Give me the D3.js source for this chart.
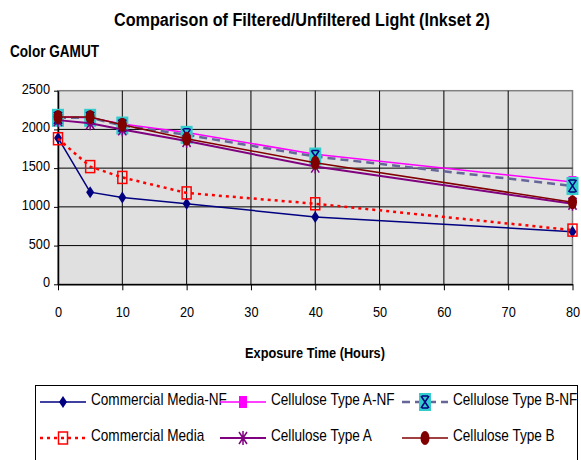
<!DOCTYPE html>
<meta charset="utf-8">
<style>
body { margin: 0; background: #fff; }
text { font-family: "Liberation Sans", Arial, sans-serif; fill: #000; }
</style>
<svg width="581" height="460"></svg>
<script src="https://cdn.jsdelivr.net/npm/d3@7"></script>
<script>

// data
var hours = [0, 5, 10, 20, 40, 80];
var commercialMediaNF = [1890, 1190, 1120, 1040, 870, 680];
var celluloseANF = [2160, 2150, 2070, 1960, 1680, 1320];
var celluloseBNF = [2150, 2150, 2050, 1930, 1650, 1270];
var commercialMedia = [1880, 1520, 1380, 1180, 1040, 700];
var celluloseA = [2120, 2080, 2000, 1850, 1520, 1040];
var celluloseB = [2160, 2160, 2060, 1880, 1570, 1060];
var xTicks = [0, 10, 20, 30, 40, 50, 60, 70, 80];
var yTicks = [0, 500, 1000, 1500, 2000, 2500];

var series = [
  {name: "Commercial Media-NF", values: commercialMediaNF, color: "#000080", width: 1.5, dash: null, marker: "diamond"},
  {name: "Cellulose Type A-NF", values: celluloseANF, color: "#ff00ff", width: 1.5, dash: null, marker: "square"},
  {name: "Cellulose Type B-NF", values: celluloseBNF, color: "#666699", width: 2.5, dash: "8,5", marker: "xbox"},
  {name: "Commercial Media", values: commercialMedia, color: "#ff0000", width: 2.5, dash: "3,4", marker: "hollow"},
  {name: "Cellulose Type A", values: celluloseA, color: "#800080", width: 2, dash: null, marker: "star"},
  {name: "Cellulose Type B", values: celluloseB, color: "#800000", width: 1.5, dash: null, marker: "circle"}
];

var sx = 0.85; // text in the picture is squeezed sideways

var svg = d3.select("svg");
svg.append("rect").attr("width", 581).attr("height", 460).attr("fill", "#fff");

var plotLeft = 58, plotRight = 572.5, plotTop = 90.7, plotBottom = 284.3;

var x = d3.scaleLinear().domain([0, 80]).range([plotLeft, plotRight]);
var y = d3.scaleLinear().domain([0, 2500]).range([plotBottom, plotTop]);

function label(g, px, py, str, size, weight, anchor) {
  return g.append("text")
      .attr("transform", "translate(" + px + "," + py + ") scale(" + sx + ",1)")
      .attr("text-anchor", anchor || "start")
      .style("font-size", size + "px")
      .style("font-weight", weight || "normal")
      .text(str);
}

label(svg, 302, 26, "Comparison of Filtered/Unfiltered Light (Inkset 2)", 19, "bold", "middle");
label(svg, 10, 57, "Color GAMUT", 16, "bold");
label(svg, 315, 358, "Exposure Time (Hours)", 15, "bold", "middle");

// plot area
svg.append("rect")
    .attr("x", plotLeft).attr("y", plotTop)
    .attr("width", plotRight - plotLeft).attr("height", plotBottom - plotTop)
    .attr("fill", "#e0e0e0")
    .attr("stroke", "#808080")
    .attr("stroke-width", 1.5);

svg.append("g").selectAll("line")
    .data(yTicks.filter(function(d) { return d > 0 && d < 2500; }))
  .enter().append("line")
    .attr("x1", plotLeft).attr("x2", plotRight)
    .attr("y1", function(d) { return y(d); }).attr("y2", function(d) { return y(d); })
    .attr("stroke", "#000").attr("stroke-width", 1);

svg.append("g").selectAll("line")
    .data(xTicks.filter(function(d) { return d > 0 && d < 80; }))
  .enter().append("line")
    .attr("y1", plotTop).attr("y2", plotBottom)
    .attr("x1", function(d) { return x(d); }).attr("x2", function(d) { return x(d); })
    .attr("stroke", "#000").attr("stroke-width", 1);

var yAxis = svg.append("g")
    .attr("transform", "translate(" + plotLeft + ",0)")
    .call(d3.axisLeft(y).tickValues(yTicks).tickSize(4).tickSizeOuter(0).tickFormat(d3.format("d")));
var xAxis = svg.append("g")
    .attr("transform", "translate(0," + plotBottom + ")")
    .call(d3.axisBottom(x).tickValues(xTicks).tickSize(6).tickSizeOuter(0));

[yAxis, xAxis].forEach(function(a) {
  a.select(".domain").attr("stroke", "#000").attr("stroke-width", 1.5);
  a.selectAll(".tick line").attr("stroke", "#000");
  a.selectAll("text").attr("fill", "#000").style("font-size", "15px")
      .style("font-family", "'Liberation Sans', Arial, sans-serif");
});
yAxis.selectAll("text").attr("x", null).attr("dy", null)
    .attr("transform", "translate(-8,2.5) scale(" + sx + ",1)");
xAxis.selectAll("text").attr("y", null).attr("dy", null)
    .attr("transform", "translate(0,32.4) scale(" + sx + ",1)");

function drawMarker(g, type, color, cx, cy) {
  var m = g.append("g").attr("transform", "translate(" + cx + "," + cy + ")");
  if (type === "diamond") {
    m.append("path").attr("d", "M0,-6L4,0L0,6L-4,0Z").attr("fill", color);
  } else if (type === "square") {
    m.append("rect").attr("x", -4).attr("y", -6).attr("width", 8).attr("height", 12).attr("fill", color);
  } else if (type === "xbox") {
    m.append("rect").attr("x", -6).attr("y", -9).attr("width", 12).attr("height", 18).attr("fill", "#33cccc");
    m.append("path").attr("d", "M-4,-6L4,6M4,-6L-4,6M-3,-6H3M-3,6H3")
        .attr("stroke", "#000080").attr("stroke-width", 1.5).attr("fill", "none");
  } else if (type === "hollow") {
    m.append("rect").attr("x", -4.5).attr("y", -6).attr("width", 9).attr("height", 12)
        .attr("fill", "none").attr("stroke", color).attr("stroke-width", 1.5);
  } else if (type === "star") {
    m.append("path").attr("d", "M-4,-6L4,6M4,-6L-4,6M0,-7V7")
        .attr("stroke", color).attr("stroke-width", 1.5).attr("fill", "none");
  } else if (type === "circle") {
    m.append("ellipse").attr("rx", 4.5).attr("ry", 7).attr("fill", color);
  }
}

var line = d3.line()
    .x(function(d, i) { return x(hours[i]); })
    .y(function(d) { return y(d); });

series.forEach(function(s) {
  var g = svg.append("g");
  g.append("path")
      .attr("d", line(s.values))
      .attr("fill", "none")
      .attr("stroke", s.color)
      .attr("stroke-width", s.width)
      .attr("stroke-dasharray", s.dash);
  s.values.forEach(function(v, i) { drawMarker(g, s.marker, s.color, x(hours[i]), y(v)); });
});

// legend
var legend = svg.append("g");
legend.append("rect")
    .attr("x", 35.5).attr("y", 385.5).attr("width", 542).attr("height", 90)
    .attr("fill", "#fff").attr("stroke", "#000").attr("stroke-width", 1);

var colX = [63, 243, 425], rowY = [402, 438];
series.forEach(function(s, i) {
  var mx = colX[i % 3], my = rowY[Math.floor(i / 3)];
  legend.append("line")
      .attr("x1", mx - 23).attr("x2", mx + 23).attr("y1", my).attr("y2", my)
      .attr("stroke", s.color).attr("stroke-width", s.width)
      .attr("stroke-dasharray", s.dash);
  drawMarker(legend, s.marker, s.color, mx, my);
  label(legend, mx + 28, my + 2.5, s.name, 16);
});

</script>
